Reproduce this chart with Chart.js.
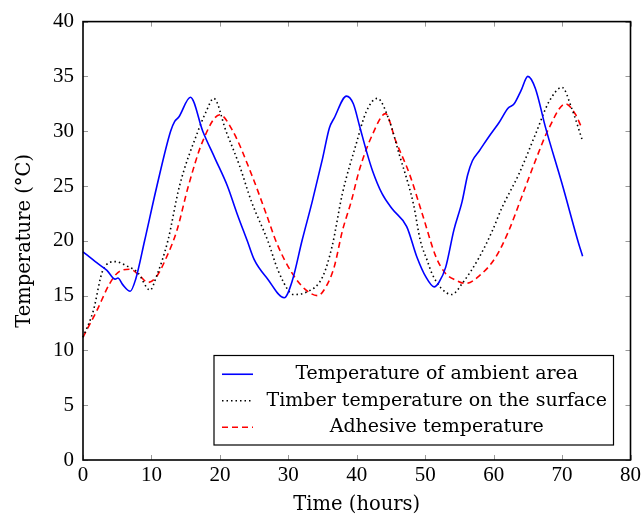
<!DOCTYPE html>
<html lang="en">
<head>
  <meta charset="UTF-8">
  <title>Temperature over time</title>
  <script src="https://cdn.jsdelivr.net/npm/chart.js"></script>
  <style>
    body { margin: 0; background: #fff; }
  </style>
</head>
<body>
  <canvas id="temp-plot" width="644" height="517"></canvas>

  <script>
    // series labels
    const labels = ['Temperature of ambient area', 'Timber temperature on the surface', 'Adhesive temperature'];

    // ambient (blue, solid)
    const ambientX = [0, 2, 3.5, 4.7, 5.1, 5.8, 6.9, 7.7, 9, 10.8, 12.8, 13.4, 14, 15.7, 17.5, 19.3, 21.1, 22.5, 24, 25, 27, 29.4, 30.6, 32, 33.5, 35, 36, 36.7, 38.5, 39.5, 40.4, 41.5, 42.3, 43.7, 45.2, 47.3, 48.8, 50.1, 51.3, 52, 53, 54.2, 55.4, 56.2, 56.9, 57.9, 59.3, 60.8, 62.1, 63, 64, 65, 66.1, 67.6, 70, 72.4, 73];
    const ambientY = [19, 18, 17.3, 16.5, 16.6, 16, 15.4, 16.5, 20, 25, 30, 30.9, 31.3, 33.1, 30, 27.5, 25, 22.5, 20, 18.3, 16.5, 14.8, 16.4, 20, 23.6, 27.5, 30.3, 31.2, 33.2, 32.5, 30.5, 28, 26.4, 24.3, 22.9, 21.3, 18.5, 16.7, 15.8, 16.2, 17.6, 21, 23.6, 26, 27.3, 28.2, 29.5, 30.8, 32.1, 32.5, 33.7, 35, 33.9, 30.3, 25.2, 19.8, 18.6];

    // timber surface (black, dotted)
    const timberX = [0, 1.5, 2.9, 4.7, 6.4, 8, 9.8, 10.7, 12.4, 14.1, 16.8, 18, 19.1, 20.9, 22.9, 24.6, 27, 28.5, 30.2, 30.7, 32.6, 35, 36.4, 37.9, 39.9, 41.4, 43, 44.8, 46.2, 47.7, 48.3, 49.3, 50.3, 51, 52.3, 53.9, 55.4, 57.9, 59.8, 61.2, 63.7, 66.1, 68.1, 70, 71.4, 73];
    const timberY = [11.2, 13.6, 17.3, 18.1, 17.7, 17.1, 15.5, 16.7, 20, 25, 30, 31.8, 33, 30, 26.8, 23.6, 20, 17.3, 15.3, 15.1, 15.3, 16.7, 19.5, 24.3, 28.8, 31.8, 33, 30.9, 27.9, 24.8, 23.3, 20, 18.2, 17, 15.7, 15.1, 16.1, 18.5, 20.9, 23, 26.1, 29.7, 32.7, 34, 32.1, 29.1];

    // adhesive (red, dashed)
    const adhesiveX = [0, 2, 3.9, 5.1, 6.9, 8.3, 9.5, 10.7, 12.2, 13.7, 15.4, 17.5, 20, 21.9, 24.6, 26.8, 28.3, 30.6, 32.6, 34.3, 35.5, 36.7, 37.9, 39.2, 40.4, 42.3, 44.2, 45.7, 47.7, 49.6, 51.6, 53, 54.5, 55.9, 57.9, 60.3, 62.2, 64.1, 66.1, 68.1, 70.5, 72, 72.8];
    const adhesiveY = [11.2, 13.6, 16.1, 17.1, 17.4, 16.8, 16.2, 16.7, 18.5, 20.9, 25, 29.1, 31.5, 30, 26.1, 22.4, 19.8, 17, 15.5, 15, 15.8, 17.6, 20.9, 23.6, 26.5, 29.7, 31.6, 29.1, 26.1, 22.4, 18.5, 17, 16.4, 16.1, 16.8, 18.5, 20.9, 24, 27.3, 30.3, 32.5, 31.5, 30.4];

    const xTitle = 'Time (hours)';
    const yTitle = 'Temperature (°C)';

    const TICKFONT = "'Liberation Serif', serif";
    const TEXTFONT = "'DejaVu Serif', serif";

    const pts = (xs, ys) => xs.map((x, i) => ({ x: x, y: ys[i] }));

    // frame, inner ticks on all four sides, and the boxed legend
    const framePlugin = {
      id: 'frame',
      afterDatasetsDraw(chart) {
        const { ctx, chartArea: a, scales } = chart;
        ctx.save();
        ctx.strokeStyle = '#999';
        ctx.lineWidth = 1;
        const len = 5;
        scales.x.ticks.forEach(t => {
          const px = Math.round(scales.x.getPixelForValue(t.value)) + 0.5;
          ctx.beginPath();
          ctx.moveTo(px, a.bottom); ctx.lineTo(px, a.bottom - len);
          ctx.moveTo(px, a.top); ctx.lineTo(px, a.top + len);
          ctx.stroke();
        });
        scales.y.ticks.forEach(t => {
          const py = Math.round(scales.y.getPixelForValue(t.value)) + 0.5;
          ctx.beginPath();
          ctx.moveTo(a.left, py); ctx.lineTo(a.left + len, py);
          ctx.moveTo(a.right, py); ctx.lineTo(a.right - len, py);
          ctx.stroke();
        });
        ctx.strokeStyle = '#000';
        ctx.lineWidth = 1.6;
        ctx.strokeRect(a.left, a.top, a.right - a.left, a.bottom - a.top);
        ctx.restore();
      },
      afterDraw(chart) {
        const { ctx, chartArea: a } = chart;
        const boxL = 214, boxR = a.right - 17, boxB = a.bottom - 15, rowH = 26.5;
        const boxT = boxB - rowH * 3 - 10;
        ctx.save();
        ctx.fillStyle = '#fff';
        ctx.fillRect(boxL, boxT, boxR - boxL, boxB - boxT);
        ctx.strokeStyle = '#000';
        ctx.lineWidth = 1.2;
        ctx.strokeRect(boxL, boxT, boxR - boxL, boxB - boxT);
        ctx.font = '19px ' + TEXTFONT;
        ctx.textAlign = 'center';
        ctx.textBaseline = 'middle';
        chart.data.datasets.forEach((ds, i) => {
          const cy = boxT + 5 + rowH * (i + 0.5) + 0.5;
          ctx.strokeStyle = ds.borderColor;
          ctx.lineWidth = ds.borderWidth;
          ctx.setLineDash(ds.borderDash || []);
          ctx.beginPath();
          ctx.moveTo(boxL + 8, cy); ctx.lineTo(boxL + 39, cy);
          ctx.stroke();
          ctx.setLineDash([]);
          ctx.fillStyle = '#000';
          ctx.fillText(ds.label, (boxL + 46 + boxR) / 2, cy);
        });
        ctx.restore();
      }
    };

    const ctx = document.getElementById('temp-plot').getContext('2d');
    new Chart(ctx, {
      type: 'line',
      data: {
        datasets: [{
          label: labels[0],
          data: pts(ambientX, ambientY),
          borderColor: '#0000ff',
          borderWidth: 1.6,
        }, {
          label: labels[1],
          data: pts(timberX, timberY),
          borderColor: '#000',
          borderWidth: 1.6,
          borderDash: [1.5, 3],
        }, {
          label: labels[2],
          data: pts(adhesiveX, adhesiveY),
          borderColor: '#ff0000',
          borderWidth: 1.6,
          borderDash: [6, 4],
        }],
      },
      options: {
        responsive: false,
        animation: false,
        clip: false,
        elements: {
          point: { radius: 0 },
          line: { cubicInterpolationMode: 'monotone', fill: false },
        },
        layout: { padding: { top: 20, right: 12, left: 0, bottom: 0 } },
        plugins: { legend: { display: false }, tooltip: { enabled: false } },
        scales: {
          x: {
            type: 'linear',
            min: 0, max: 80,
            ticks: { stepSize: 10, color: '#000', font: { family: TICKFONT, size: 21 }, padding: 3 },
            grid: { display: false, drawTicks: false },
            border: { display: false },
            title: { display: true, text: xTitle, color: '#000', font: { family: TEXTFONT, size: 19.5 }, padding: 0 },
            afterFit(s) { s.height = 57; },
          },
          y: {
            type: 'linear',
            min: 0, max: 40,
            ticks: { stepSize: 5, color: '#000', font: { family: TICKFONT, size: 21 }, padding: 9 },
            grid: { display: false, drawTicks: false },
            border: { display: false },
            title: { display: true, text: yTitle, color: '#000', font: { family: TEXTFONT, size: 19.5 }, padding: 13 },
            afterFit(s) { s.width = 83; },
          },
        },
      },
      plugins: [framePlugin],
    });
  </script>
</body>
</html>
